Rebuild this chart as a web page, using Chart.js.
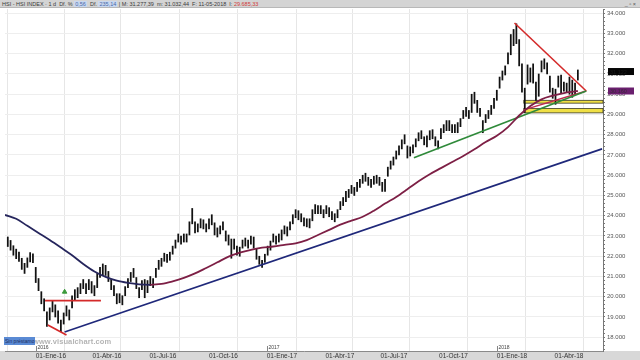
<!DOCTYPE html>
<html><head><meta charset="utf-8">
<script src="https://cdn.jsdelivr.net/npm/chart.js@4.4.1/dist/chart.umd.min.js"></script>
<style>
html,body{margin:0;padding:0;width:640px;height:360px;overflow:hidden;background:#fff;}
#wrap{position:relative;width:640px;height:360px;}
canvas{position:absolute;left:0;top:0;}
#hdr{position:absolute;left:0;top:0;width:640px;height:8px;background:#d4d4d4;border-bottom:1px solid #b8b8b8;font:5.5px "Liberation Sans",Arial,sans-serif;color:#3a3a3a;line-height:8px;white-space:nowrap;padding-left:2px;box-sizing:border-box;}
#hdr .hl{background:#c9d8f0;color:#4a6aa8;padding:0 1px;}
#hdr .red{color:#d23a3a;}
#hdr .ico{position:absolute;right:4px;top:0;color:#555;}
#wm{position:absolute;left:33px;top:337px;font:bold 7.5px "Liberation Sans",Arial,sans-serif;color:#b4b4b4;letter-spacing:0.1px;}
#sp{position:absolute;left:4px;top:337px;height:8px;padding:0 1px;background:#5a8ad4;color:#1c2c5c;font:5px "Liberation Sans",Arial,sans-serif;line-height:8px;}
</style></head><body>
<div id="wrap">
<canvas id="c" width="640" height="360"></canvas>
<div id="hdr">HSI - HSI INDEX · 1 d &nbsp;Df. % <span class="hl">0,56</span> &nbsp;Df. <span class="hl">235,14</span> | M: 31.277,39 &nbsp;m: 31.032,44 &nbsp;F: 11-05-2018 &nbsp;I: <span class="red">29.685,33</span><span class="ico">_ ▫ ×</span></div>
<div id="wm">www.visualchart.com</div>
<div id="sp">Sin préstamo</div>
</div>
<script>
// ---- DATA (x = trading-day index, 0 = first session of 2016) ----
const barStartDay = -30;
const barStepDays = 3;
const barLow = [
22480,22300,22050,21880,21750,21350,21150,21450,21720,21680,
20700,20300,19650,19300,18530,18850,19250,
19000,18700,18280,18650,19050,18850,
19450,19850,19950,20150,20400,20150,20350,
20180,20050,20450,20950,21050,21050,20750,
20350,20050,19650,19700,19600,20050,20450,
20750,20950,20400,19950,20350,19950,20200,
20550,20450,20950,21350,21500,21750,21700,
21800,22100,22400,22700,22600,22700,22700,
23050,23600,23150,23200,23400,23350,23200,
23350,23550,23050,22950,23100,23300,22750,
22550,21900,22350,22050,22000,22400,22500,
22400,22600,22400,21850,21600,21450,21700,
22050,22300,22700,22600,22700,22800,23100,
23000,23300,23600,23900,23800,23700,23500,
23450,23400,23750,24100,24100,24100,23900,
24100,23950,23800,23700,23900,24300,
24500,24700,24900,25100,25000,25200,25400,
25600,25700,25500,25400,25550,25600,25500,
25200,25200,25950,26300,26500,26800,27000,
27300,27550,26850,26950,27100,27400,27700,
27800,27500,27400,27750,27800,27450,27300,
27800,28100,28200,28200,28100,28100,28100,
28400,28800,28900,28800,29100,29550,29100,
28900,28100,28600,28800,29000,29300,29700,
30300,30700,30950,31500,31950,32400,32500,
31400,30100,29100,30500,30600,30550,
29700,29900,31100,31250,31000,30100,29800,
29500,30350,30050,30150,30100,30000,
29850,30000,30700];
const barHigh = [
22950,22780,22520,22350,22200,21900,21650,21920,22180,22120,
21450,20900,20250,19900,19250,19450,19800,
19600,19300,18850,19200,19550,19350,
20050,20350,20450,20650,20850,20650,20850,
20750,20550,21150,21450,21620,21550,21250,
20850,20550,20150,20150,20050,20500,20900,
21200,21400,20950,20450,20800,20850,20800,
21000,20900,21400,21800,21900,22150,22100,
22200,22500,22800,23100,23000,23100,23100,
23700,24360,23700,23600,23850,23800,23600,
23850,24050,23650,23400,23500,23700,23250,
23050,22850,22850,22500,22450,22800,22900,
22800,23000,22950,22350,22000,21800,22100,
22500,22750,23100,23000,23100,23300,23500,
23450,23700,24050,24300,24250,24100,23900,
23850,23850,24300,24550,24500,24500,24300,
24500,24400,24200,24100,24300,24700,
24900,25200,25300,25500,25400,25650,25800,
26000,26100,25900,25800,25950,26000,25900,
25650,25800,26400,26700,26900,27200,27450,
27750,28000,27450,27400,27500,27800,28100,
28200,27900,27950,28200,28250,27900,27700,
28300,28500,28700,28700,28500,28500,28600,
28800,29200,29350,29200,30000,30100,29700,
29300,28700,29000,29200,29450,29800,30200,
30850,31150,31400,32050,32950,33200,33480,
32700,31500,30300,31450,31300,31500,
30600,31000,31650,31750,31550,30900,30300,
30250,30900,30950,30600,30550,30850,
30700,30550,31200];

const maDays = [-33,-21,-9,3,15,27,39,51,63,75,87,99,111,123,135,147,159,171,183,195,207,219,231,243,255,267,279,291,303,315,327,339,351,363,375,387,399,411,423,435,447,459,471,483,495,507,519,531,543,555,567,579,582];
const maValues = [24040,23850,23500,23150,22800,22430,22050,21620,21250,20980,20790,20680,20610,20590,20630,20760,20930,21150,21420,21700,21980,22180,22320,22420,22480,22560,22640,22800,23050,23300,23560,23760,23950,24250,24600,24930,25310,25700,26050,26350,26650,26950,27280,27640,27950,28380,28950,29420,29750,29930,30060,30140,30160];

const blueTrendDays = [31, 608];   const blueTrendValues = [18260, 27300];
const redLowDays = [13, 33];       const redLowValues = [18610, 18110];
const redFlatDays = [10, 70];      const redFlatValues = [19810, 19810];
const greenTrendDays = [406, 591]; const greenTrendValues = [26860, 30160];
const redTopDays = [514, 591];     const redTopValues = [33520, 30160];
const redBaseDays = [524, 591];    const redBaseValues = [29230, 30160];
const arrowDays = [31];            const arrowValues = [20240];
const zoneStartDay = 524;
const zoneLow = [29560, 29080];
const zoneHigh = [29700, 29300];
const lastClose = 31122;
const lastMA = 30160;

const quarterDays = [0, 61, 122, 186, 248, 311, 370, 433, 495, 557];
const quarterLabels = ['01-Ene-16','01-Abr-16','01-Jul-16','01-Oct-16','01-Ene-17','01-Abr-17','01-Jul-17','01-Oct-17','01-Ene-18','01-Abr-18'];
const yearDays = [0, 248, 495];
const yearLabels = ['2016','2017','2018'];
const yTicks = [18000,19000,20000,21000,22000,23000,24000,25000,26000,27000,28000,29000,30000,31000,32000,33000,34000];

// ---- build ----
const fmt = v => String(Math.round(v)).replace(/\B(?=(\d{3})+(?!\d))/g, '.');
const pts = (d, v) => d.map((x, i) => ({x, y: v[i]}));
const barData = barLow.map((lo, i) => ({x: barStartDay + i * barStepDays, y: [lo, barHigh[i]]}));
const line = (data, color, w) => ({type:'line', data, borderColor: color, borderWidth: w || 1.6, pointRadius: 0, fill: false, order: 1, tension: 0});

const deco = {
  id: 'deco',
  beforeDraw(chart) {
    const {ctx, chartArea: a, width, height} = chart;
    ctx.save();
    ctx.fillStyle = '#fff'; ctx.fillRect(0, 0, width, height);
    ctx.fillStyle = '#d8d8d8'; ctx.fillRect(0, a.bottom, width, height - a.bottom);
    ctx.restore();
  },
  beforeDatasetsDraw(chart) {
    const {ctx, chartArea: a, scales: {x, y}} = chart;
    ctx.save();
    const x0 = x.getPixelForValue(zoneStartDay);
    zoneLow.forEach((lo, i) => {
      const yt = y.getPixelForValue(zoneHigh[i]), yb = y.getPixelForValue(lo);
      ctx.fillStyle = '#efdf45';
      ctx.fillRect(x0, yt, a.right - x0, yb - yt);
      ctx.strokeStyle = '#3a3a2a'; ctx.lineWidth = 0.8;
      ctx.strokeRect(x0, yt, a.right - x0, yb - yt);
    });
    ctx.restore();
  },
  afterDraw(chart) {
    const {ctx, chartArea: a, scales: {x, y}} = chart;
    ctx.save();
    ctx.font = '5px "Liberation Sans", Arial, sans-serif';
    ctx.fillStyle = '#444'; ctx.strokeStyle = '#666'; ctx.lineWidth = 0.8;
    yearDays.forEach((d, i) => {
      const px = Math.round(x.getPixelForValue(d)) + 0.5;
      ctx.beginPath(); ctx.moveTo(px, a.bottom - 5); ctx.lineTo(px, a.bottom); ctx.stroke();
      ctx.textBaseline = 'bottom'; ctx.textAlign = 'left';
      ctx.fillText(yearLabels[i], px + 1, a.bottom - 1);
    });
    const box = (v, bg, fg) => {
      const py = y.getPixelForValue(v);
      ctx.fillStyle = bg; ctx.fillRect(a.right + 5, py - 3.5, 26, 7);
      ctx.fillStyle = fg; ctx.font = '5.5px "Liberation Sans", Arial, sans-serif';
      ctx.textBaseline = 'middle'; ctx.textAlign = 'left';
      ctx.fillText(fmt(v), a.right + 7, py + 0.5);
    };
    box(lastClose, '#050505', '#1a1a1a');
    box(lastMA, '#6a1f6e', '#3a2a3a');
    ctx.restore();
  }
};

new Chart(document.getElementById('c'), {
  type: 'bar',
  data: {
    datasets: [
      {type:'bar', data: barData, backgroundColor: '#111', borderWidth: 0, barThickness: 1.1, grouped: false, order: 5},
      Object.assign(line(pts(maDays, maValues), '#7d1f45', 1.8), {tension: 0.4, cubicInterpolationMode: 'monotone',
        segment: {borderColor: c => c.p1.parsed.y < c.p0.parsed.y ? '#25255c' : '#7d1f45'}}),
      line(pts(blueTrendDays, blueTrendValues), '#1f287a', 1.7),
      line(pts(redLowDays, redLowValues), '#d42a2a', 1.7),
      line(pts(redFlatDays, redFlatValues), '#d42a2a', 1.7),
      line(pts(greenTrendDays, greenTrendValues), '#2f8a3a', 1.7),
      line(pts(redTopDays, redTopValues), '#d42a2a', 1.6),
      line(pts(redBaseDays, redBaseValues), '#c02a50', 1.4),
      {type:'scatter', data: pts(arrowDays, arrowValues), pointStyle: 'triangle', radius: 2.6, backgroundColor: '#3a9a3a', borderColor: '#3a9a3a', order: 0}
    ]
  },
  options: {
    responsive: false, animation: false, events: [],
    layout: {padding: {top: 9, left: 0, right: 0, bottom: 0}},
    plugins: {legend: {display: false}, tooltip: {enabled: false}},
    scales: {
      x: {
        type: 'linear', min: -33, max: 609, offset: false, position: 'bottom',
        afterBuildTicks: s => { s.ticks = quarterDays.map(v => ({value: v})); },
        afterFit: s => { s.height = 9; },
        ticks: {autoSkip: false, maxRotation: 0, align: 'start', padding: 1, color: '#333',
          font: {size: 6.5, family: '"Liberation Sans", Arial, sans-serif'},
          callback: v => quarterLabels[quarterDays.indexOf(v)] || ''},
        grid: {color: '#e6e6e6', lineWidth: 1, drawTicks: false},
        border: {display: true, color: '#8a8a8a', width: 1}
      },
      y: {
        type: 'linear', position: 'right', min: 17320, max: 34210,
        afterBuildTicks: s => {
          const t = [];
          yTicks.forEach(v => { t.push({value: v}); if (v < 34000) [200,400,600,800].forEach(m => t.push({value: v + m})); });
          t.unshift({value: 17800}, {value: 17600}, {value: 17400});
          t.push({value: 34200});
          s.ticks = t.sort((p, q) => p.value - q.value);
        },
        afterFit: s => { s.width = 37; },
        ticks: {autoSkip: false, padding: 2, color: '#555',
          font: {size: 6, family: '"Liberation Sans", Arial, sans-serif'},
          callback: v => (v % 1000 === 0 ? fmt(v) : '')},
        grid: {color: c => (c.tick && c.tick.value % 1000 === 0 ? '#eeeeee' : 'rgba(0,0,0,0)'), tickColor: '#777', tickLength: 2, drawTicks: true},
        border: {display: true, color: '#777', width: 1}
      }
    }
  },
  plugins: [deco]
});
</script>
</body></html>
